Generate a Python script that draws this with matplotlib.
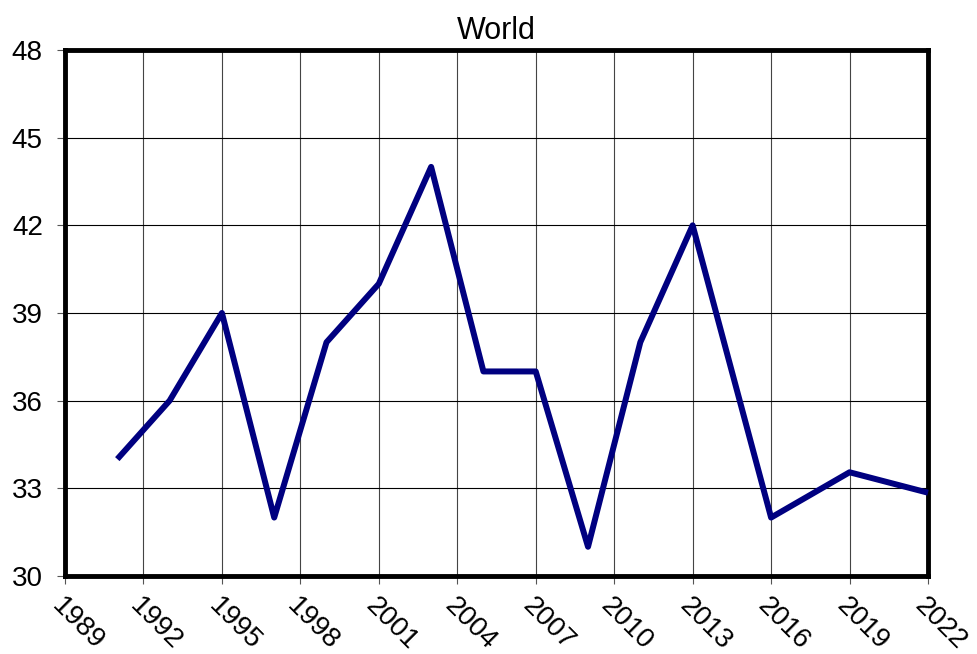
import matplotlib
matplotlib.use("Agg")
import matplotlib.pyplot as plt

years = [1991, 1993, 1995, 1997, 1999, 2001, 2003, 2005, 2007, 2009, 2011, 2013, 2016, 2019, 2022]
values = [34, 36, 39, 32, 38, 40, 44, 37, 37, 31, 38, 42, 32, 33.55, 32.85]
xticks = list(range(1989, 2023, 3))
yticks = [30, 33, 36, 39, 42, 45, 48]
title = "World"

plt.rcParams['font.family'] = ['Liberation Sans', 'DejaVu Sans']

fig = plt.figure(figsize=(9.77, 6.54), dpi=100)
ax = fig.add_axes([65/977, 1-576/654, (928-65)/977, (576-50)/654])

ax.plot(years, values, color='#000080', linewidth=4.3, solid_joinstyle='round',
        solid_capstyle='butt', clip_on=False, zorder=3)
ax.set_xlim(1989, 2022)
ax.set_ylim(30, 48)
ax.set_xticks(xticks)
ax.set_yticks(yticks)
ax.set_xticklabels([str(t) for t in xticks], rotation=-45, ha='left', va='top', rotation_mode='anchor', fontsize=20)
ax.set_yticklabels([str(t) for t in yticks], fontsize=20)
ax.grid(True, color='black', linewidth=0.8)
ax.xaxis.grid(True, color='#444444', linewidth=0.8)
for s in ax.spines.values():
    s.set_linewidth(3.5)
    s.set_color('black')
ax.tick_params(axis='both', direction='out', length=6, width=0.8, color='#555555', pad=6)
ax.tick_params(axis='y', pad=10)
ax.set_title(title, fontsize=22, pad=8)

fig.savefig("out.png", dpi=100)
